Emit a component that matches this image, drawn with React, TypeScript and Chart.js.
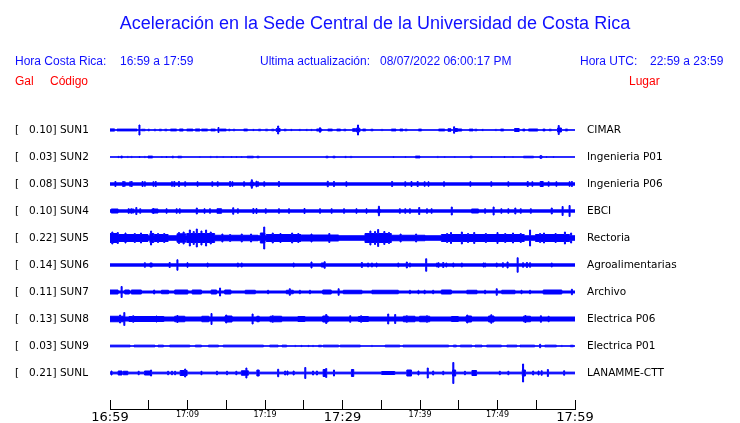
import React, { useEffect, useRef } from "react";
import { Chart, registerables } from "chart.js";

Chart.register(...registerables);

// ---------- DATA ----------
const titleText = "Aceleración en la Sede Central de la Universidad de Costa Rica";
const localTimeLabel = "Hora Costa Rica:";
const localTimeRange = "16:59 a 17:59";
const updateLabel = "Ultima actualización:";
const updateValue = "08/07/2022 06:00:17 PM";
const utcLabel = "Hora UTC:";
const utcRange = "22:59 a 23:59";
const unitHeader = "Gal";
const codeHeader = "Código";
const placeHeader = "Lugar";

const timeTickLabels = ["16:59", "17:09", "17:19", "17:29", "17:39", "17:49", "17:59"];

const stationCodes = ["SUN1", "SUN2", "SUN3", "SUN4", "SUN5", "SUN6", "SUN7", "SUN8", "SUN9", "SUNL"];
const peakGal = [0.10, 0.03, 0.08, 0.10, 0.22, 0.14, 0.11, 0.13, 0.03, 0.21];
const places = ["CIMAR", "Ingenieria P01", "Ingenieria P06", "EBCI", "Rectoria", "Agroalimentarias", "Archivo", "Electrica P06", "Electrica P01", "LANAMME-CTT"];
// background noise half-amplitude (gal)
const noiseGal = [0.004, 0.003, 0.023, 0.023, 0.045, 0.023, 0.02, 0.04, 0.003, 0.017];

// bursts: [minute after 16:59, half-amplitude gal, duration minutes (optional)]
const sun1Bursts = [
  [0.3, 0.022, 0.6], [2.2, 0.018, 2.6], [3.8, 0.10], [4.3, 0.015, 0.5], [5.0, 0.015, 0.2], [5.8, 0.015, 0.2], [6.5, 0.015, 0.3], [7.2, 0.015, 0.3], [8.2, 0.018, 0.8], [9.2, 0.02, 0.5], [10.3, 0.018, 0.8], [11.3, 0.02, 0.6], [12.2, 0.018, 0.8], [13.3, 0.018, 0.6], [14.0, 0.05], [14.6, 0.018, 0.8], [15.4, 0.015, 0.2], [16.0, 0.015, 0.2], [17.5, 0.018, 0.5], [18.5, 0.012, 0.2], [19.3, 0.015, 0.3], [20.2, 0.015, 0.3], [21.0, 0.015, 0.3], [21.7, 0.08], [21.7, 0.03, 0.5], [22.6, 0.015, 0.3], [23.4, 0.012, 0.2], [24.5, 0.012, 0.2], [25.4, 0.012, 0.2], [26.0, 0.012, 0.2], [27.0, 0.02, 0.7], [27.1, 0.045], [28.4, 0.018, 0.6], [29.5, 0.018, 0.5], [30.3, 0.015, 0.3], [31.5, 0.025, 0.4], [32.0, 0.10], [32.0, 0.035, 0.5], [32.8, 0.018, 0.4], [33.8, 0.015, 0.3], [35.1, 0.012, 0.2], [36.6, 0.018, 0.6], [37.6, 0.018, 0.4], [38.2, 0.015, 0.3], [40.0, 0.018, 0.4], [42.8, 0.018, 0.8], [43.8, 0.025, 0.4], [44.4, 0.065], [44.6, 0.03, 0.5], [45.1, 0.02, 0.6], [46.6, 0.018, 0.5], [47.2, 0.015, 0.3], [48.1, 0.012, 0.2], [49.8, 0.012, 0.2], [50.6, 0.018, 0.4], [52.5, 0.03, 0.6], [53.4, 0.018, 0.3], [54.6, 0.02, 1.2], [56.0, 0.018, 0.3], [56.8, 0.015, 0.3], [57.9, 0.09], [58.0, 0.04, 0.5], [58.9, 0.018, 0.3],
];
const sun2Bursts = [
  [1.1, 0.012], [1.5, 0.018, 0.2], [2.3, 0.012], [2.8, 0.012], [3.8, 0.01], [4.5, 0.012], [5.2, 0.018, 0.6], [6.7, 0.01], [7.3, 0.01], [8.1, 0.015, 0.2], [9.0, 0.015, 0.5], [11.6, 0.01], [13.0, 0.012], [13.8, 0.012], [14.6, 0.01], [15.7, 0.01], [16.3, 0.01], [17.0, 0.01], [18.1, 0.015, 0.8], [19.1, 0.015, 0.3], [28.0, 0.015, 0.3], [28.9, 0.015, 0.3], [30.4, 0.012, 0.2], [31.1, 0.012, 0.2], [36.6, 0.01], [38.1, 0.01], [39.7, 0.018, 0.6], [42.3, 0.012], [43.2, 0.01], [44.5, 0.01], [46.6, 0.015, 0.3], [49.2, 0.01], [50.9, 0.01], [52.0, 0.01], [54.0, 0.015, 1.3], [55.6, 0.03], [55.6, 0.015, 0.4], [56.3, 0.01], [57.2, 0.01],
];
const sun3Bursts = [
  [0.7, 0.05], [1.7, 0.05], [1.9, 0.045], [2.6, 0.045], [2.8, 0.05], [4.2, 0.05], [4.5, 0.045], [5.6, 0.045], [5.9, 0.05], [8.0, 0.045], [8.3, 0.05], [8.9, 0.05], [9.7, 0.045], [11.3, 0.045], [13.2, 0.045], [13.9, 0.045], [15.5, 0.05], [15.8, 0.045], [17.3, 0.045], [18.3, 0.085], [18.3, 0.04, 0.4], [18.9, 0.055], [19.1, 0.045], [19.9, 0.045], [21.8, 0.05], [28.1, 0.055], [28.9, 0.05], [30.5, 0.045], [36.4, 0.05], [38.1, 0.045], [38.9, 0.05], [39.7, 0.05], [40.6, 0.045], [41.1, 0.045], [43.1, 0.045], [46.5, 0.045], [49.2, 0.045], [51.4, 0.045], [53.9, 0.05], [54.5, 0.045], [55.7, 0.05, 0.4], [56.6, 0.045], [57.6, 0.045], [59.3, 0.045], [59.6, 0.05],
];
const sun4Bursts = [
  [0.6, 0.04, 0.9], [2.4, 0.045], [2.6, 0.04], [2.8, 0.045], [3.0, 0.04], [3.4, 0.07], [3.9, 0.045], [5.8, 0.04, 0.8], [5.6, 0.05], [7.3, 0.045], [8.6, 0.045], [9.0, 0.045], [11.2, 0.06], [12.2, 0.045], [12.9, 0.045], [14.1, 0.045, 0.6], [15.9, 0.065], [16.5, 0.045], [18.5, 0.05], [18.9, 0.05], [20.1, 0.045], [21.8, 0.045], [23.1, 0.045], [25.1, 0.05], [27.1, 0.045], [28.6, 0.045], [30.2, 0.045], [31.8, 0.045], [33.1, 0.045], [34.7, 0.095], [34.7, 0.04, 0.3], [37.4, 0.045], [38.1, 0.045], [38.7, 0.045], [39.9, 0.07], [40.9, 0.045], [41.5, 0.045], [44.1, 0.08], [47.1, 0.04, 0.9], [48.4, 0.045], [49.5, 0.08], [50.5, 0.045], [51.4, 0.045], [52.3, 0.06], [53.0, 0.045], [54.3, 0.045], [57.0, 0.06], [58.4, 0.09], [59.3, 0.11],
];
const sun5Bursts = [
  [0.55, 0.09, 1.1], [3.0, 0.07, 3.8], [0.3, 0.12], [1.0, 0.11], [2.0, 0.1], [3.2, 0.09], [4.0, 0.1], [5.3, 0.14], [5.4, 0.09, 0.5], [6.6, 0.07, 1.8], [6.2, 0.09], [7.0, 0.09], [9.2, 0.085, 1.1], [8.9, 0.11], [9.5, 0.12], [11.7, 0.09, 3.6], [10.3, 0.16], [10.8, 0.13], [11.2, 0.18], [11.8, 0.14], [12.4, 0.16], [13.0, 0.12], [16.3, 0.055, 5.6], [14.5, 0.08], [15.5, 0.07], [17.0, 0.08], [18.2, 0.08], [19.9, 0.22], [19.7, 0.1, 0.6], [22.4, 0.07, 4.5], [21.0, 0.1], [22.0, 0.09], [23.5, 0.1], [24.3, 0.09], [27.1, 0.06, 4.8], [26.0, 0.08], [28.3, 0.09], [34.6, 0.09, 3.4], [33.6, 0.14], [34.2, 0.13], [34.6, 0.17], [35.4, 0.13], [36.0, 0.11], [38.5, 0.055, 4.3], [37.5, 0.08], [39.5, 0.08], [48.1, 0.07, 10.7], [43.5, 0.09], [44.0, 0.11], [45.4, 0.12], [46.2, 0.09], [47.0, 0.11], [48.5, 0.09], [50.0, 0.11], [51.0, 0.09], [52.0, 0.1], [53.0, 0.09], [54.2, 0.16], [57.1, 0.07, 4.4], [55.5, 0.09], [56.0, 0.1], [57.5, 0.09], [58.7, 0.12], [59.5, 0.1],
];
const sun6Bursts = [
  [4.5, 0.045], [5.3, 0.04, 0.3], [7.7, 0.05], [8.7, 0.105], [10.0, 0.045], [12.6, 0.04], [16.5, 0.04], [17.0, 0.04], [23.7, 0.04], [26.0, 0.06], [27.7, 0.065], [27.5, 0.04, 0.5], [32.5, 0.05], [33.3, 0.04], [33.8, 0.04], [34.4, 0.04], [37.2, 0.04], [38.3, 0.06], [38.7, 0.04], [40.8, 0.125], [42.2, 0.04], [42.4, 0.045], [43.0, 0.05], [43.4, 0.04], [44.3, 0.04], [45.4, 0.04], [48.2, 0.04], [48.4, 0.04], [49.9, 0.04], [50.7, 0.045], [51.3, 0.06], [52.6, 0.145], [53.3, 0.045], [53.8, 0.05], [54.2, 0.045], [57.0, 0.04],
];
const sun7Bursts = [
  [0.5, 0.04, 1.1], [1.5, 0.11], [2.2, 0.04, 0.6], [3.4, 0.04, 1.3], [5.7, 0.04], [7.1, 0.035, 0.9], [9.2, 0.04, 1.7], [11.2, 0.04, 1.2], [13.4, 0.04, 0.7], [14.2, 0.08], [15.2, 0.04, 0.8], [18.1, 0.035, 1.3], [20.4, 0.035], [23.2, 0.035, 0.9], [23.2, 0.065], [24.5, 0.035], [25.8, 0.035], [28.0, 0.04, 1.1], [29.5, 0.065], [31.3, 0.035, 2.4], [35.5, 0.035, 3.4], [38.7, 0.035], [39.8, 0.035], [40.6, 0.035], [41.7, 0.035], [43.4, 0.04, 1.3], [46.7, 0.035, 1.3], [48.4, 0.035], [49.9, 0.065], [51.4, 0.035, 1.7], [53.1, 0.035], [54.2, 0.035], [57.1, 0.04, 2.4], [59.6, 0.055],
];
const sun8Bursts = [
  [0.9, 0.055, 1.9], [1.3, 0.08], [1.85, 0.13], [4.7, 0.05, 4.5], [3.0, 0.065], [6.0, 0.06], [9.0, 0.055, 1.3], [8.7, 0.07], [12.3, 0.055, 0.9], [13.1, 0.11], [15.3, 0.06, 0.9], [15.0, 0.08], [18.4, 0.1], [19.1, 0.055, 0.3], [21.4, 0.055, 1.5], [21.0, 0.065], [24.7, 0.05, 0.9], [27.8, 0.06, 0.7], [27.9, 0.09], [31.0, 0.065], [32.7, 0.05, 1.3], [32.4, 0.065], [35.9, 0.1], [36.8, 0.09], [38.6, 0.055, 1.5], [38.3, 0.065], [40.6, 0.055, 1.3], [40.9, 0.065], [44.5, 0.05, 0.9], [46.3, 0.06, 0.7], [46.1, 0.08], [49.2, 0.06, 0.7], [49.2, 0.085], [53.8, 0.055, 0.9], [53.6, 0.07], [55.6, 0.065], [56.6, 0.055],
];
const sun9Bursts = [
  [1.3, 0.017, 2.6], [4.45, 0.017, 2.7], [6.55, 0.017, 0.7], [9.0, 0.017, 2.6], [11.4, 0.017, 0.8], [13.35, 0.017, 1.3], [17.2, 0.017, 5.2], [21.15, 0.017, 1.1], [22.5, 0.017, 0.6], [23.9, 0.012], [24.7, 0.012], [25.6, 0.012], [26.2, 0.012], [27.1, 0.015, 0.4], [28.5, 0.017, 2.0], [31.0, 0.017, 2.6], [33.8, 0.012], [36.45, 0.017, 1.9], [40.75, 0.017, 5.9], [44.5, 0.017, 0.4], [45.95, 0.017, 1.5], [47.55, 0.017, 0.9], [49.55, 0.017, 1.9], [51.85, 0.017, 1.3], [53.85, 0.017, 1.9], [55.5, 0.035], [56.85, 0.017, 1.5], [58.3, 0.012], [59.6, 0.015, 0.4],
];
const sunLBursts = [
  [0.2, 0.04], [1.3, 0.04, 0.5], [2.0, 0.035, 0.6], [3.7, 0.035], [4.9, 0.04, 0.9], [5.3, 0.06], [7.5, 0.035], [8.0, 0.035], [8.4, 0.035], [9.5, 0.05, 0.9], [9.7, 0.08], [11.8, 0.035], [13.8, 0.035], [15.1, 0.035], [16.3, 0.035], [17.4, 0.045, 0.9], [17.6, 0.1], [19.1, 0.06, 0.3], [21.7, 0.075], [22.6, 0.04], [22.9, 0.04], [23.7, 0.04], [25.2, 0.11], [26.2, 0.04], [26.7, 0.04], [27.7, 0.07, 0.4], [27.9, 0.09], [28.9, 0.06], [31.3, 0.07, 0.3], [35.9, 0.03, 1.7], [38.6, 0.06, 0.6], [39.8, 0.04], [41.0, 0.1], [41.7, 0.04], [43.0, 0.035], [44.3, 0.21], [44.4, 0.06, 0.4], [45.8, 0.035], [47.0, 0.05, 0.6], [50.3, 0.035], [51.4, 0.035], [53.3, 0.18], [53.4, 0.06, 0.4], [54.6, 0.04], [55.3, 0.04], [55.7, 0.045], [56.5, 0.07], [58.6, 0.045],
];
const burstsByStation = [sun1Bursts, sun2Bursts, sun3Bursts, sun4Bursts, sun5Bursts, sun6Bursts, sun7Bursts, sun8Bursts, sun9Bursts, sunLBursts];

// ---------- LAYOUT / STYLE CONSTANTS ----------
const ROW_GAP = 0.54; // gal between trace baselines
const TRACE_COLOR = "#0000ff";
const HEAD_BLUE = "#1010ff";
const HEAD_RED = "#ff0000";
const SANS = '"Liberation Sans", Arial, Helvetica, sans-serif';
const DEJAVU = '"DejaVu Sans", sans-serif';
const DEFAULT_DUR = 0.13;
const LABEL_SIZE = 10.5;

function envelope(noise: number, bursts: number[][]) {
  const bounds = new Set<number>([0, 60]);
  const evs = bursts.map(([t, a, d]) => {
    const dd = d ?? DEFAULT_DUR;
    const s = Math.max(0, t - dd / 2);
    const e = Math.min(60, t + dd / 2);
    bounds.add(+s.toFixed(4));
    bounds.add(+e.toFixed(4));
    return { s, e, a };
  });
  const xs = Array.from(bounds).sort((a, b) => a - b);
  const pts: { x: number; v: number }[] = [];
  for (let k = 0; k < xs.length - 1; k++) {
    const mid = (xs[k] + xs[k + 1]) / 2;
    let v = noise;
    for (const ev of evs) if (mid >= ev.s && mid < ev.e) v = Math.max(v, ev.a);
    pts.push({ x: xs[k], v });
  }
  pts.push({ x: 60, v: pts[pts.length - 1].v });
  return pts;
}

const headerPlugin = {
  id: "headerTexts",
  afterDraw(chart: any) {
    const ctx = chart.ctx;
    ctx.save();
    ctx.textBaseline = "middle";
    ctx.fillStyle = HEAD_BLUE;
    ctx.textAlign = "center";
    ctx.font = `18px ${SANS}`;
    ctx.fillText(titleText, 375, 24);
    ctx.textAlign = "left";
    ctx.font = `12px ${SANS}`;
    ctx.fillText(localTimeLabel, 15, 62);
    ctx.fillText(localTimeRange, 120, 62);
    ctx.fillText(updateLabel, 260, 62);
    ctx.fillText(updateValue, 380, 62);
    ctx.fillText(utcLabel, 580, 62);
    ctx.fillText(utcRange, 650, 62);
    ctx.fillStyle = HEAD_RED;
    ctx.fillText(unitHeader, 15, 82);
    ctx.fillText(codeHeader, 50, 82);
    ctx.fillText(placeHeader, 629, 82);
    ctx.restore();
  },
};

const rowIndex = (v: number) => Math.round(-v / ROW_GAP);
const leftLabel = (i: number) => `[   ${peakGal[i].toFixed(2)}] ${stationCodes[i]}`;

export default function App() {
  const ref = useRef<HTMLCanvasElement>(null);
  useEffect(() => {
    if (!ref.current) return;
    const datasets: any[] = [];
    stationCodes.forEach((code, i) => {
      const base = -i * ROW_GAP;
      const env = envelope(noiseGal[i], burstsByStation[i]);
      const common = {
        stepped: true,
        borderColor: TRACE_COLOR,
        backgroundColor: TRACE_COLOR,
        borderWidth: 1,
        pointRadius: 0,
        tension: 0,
      };
      datasets.push({ ...common, label: code + "+", data: env.map((p) => ({ x: p.x, y: base + p.v })), fill: "+1" });
      datasets.push({ ...common, label: code + "-", data: env.map((p) => ({ x: p.x, y: base - p.v })), fill: false });
    });

    const yMax = 0.6;
    const yMin = -5.58;
    const rowTicks = (s: any) => {
      s.ticks = stationCodes.map((_, i) => ({ value: -i * ROW_GAP }));
    };

    const chart = new Chart(ref.current, {
      type: "line",
      data: { datasets },
      options: {
        animation: false,
        responsive: false,
        events: [],
        layout: { padding: { top: 100, left: 15, right: 0, bottom: 0 } },
        plugins: { legend: { display: false }, tooltip: { enabled: false }, title: { display: false } },
        scales: {
          x: {
            type: "linear",
            position: "bottom",
            min: 0,
            max: 60,
            grid: { drawOnChartArea: false, drawTicks: true, tickLength: -9, color: "#000", lineWidth: 1 },
            border: { display: true, color: "#000", width: 1 },
            ticks: {
              stepSize: 5,
              autoSkip: false,
              maxRotation: 0,
              padding: 10,
              color: "#000",
              font: (c: any) => ({ family: DEJAVU, size: c.tick && c.tick.value % 30 === 0 ? 13 : 8 }),
              callback: (v: any) => (Number(v) % 10 === 0 ? timeTickLabels[Number(v) / 10] : ""),
            },
            afterFit: (s: any) => {
              s.height = 14;
            },
          },
          y: {
            type: "linear",
            position: "left",
            min: yMin,
            max: yMax,
            grid: { display: false, drawTicks: false },
            border: { display: false },
            afterBuildTicks: rowTicks,
            ticks: {
              crossAlign: "far",
              padding: 0,
              color: "#000",
              font: { family: DEJAVU, size: LABEL_SIZE },
              callback: (v: any) => leftLabel(rowIndex(Number(v))),
            },
            afterFit: (s: any) => {
              s.width = 95;
            },
          },
          y2: {
            type: "linear",
            position: "right",
            min: yMin,
            max: yMax,
            grid: { display: true, drawOnChartArea: false, drawTicks: true, tickLength: 12, color: "rgba(0,0,0,0)" },
            border: { display: false },
            afterBuildTicks: rowTicks,
            ticks: {
              crossAlign: "near",
              padding: 0,
              color: "#000",
              font: { family: DEJAVU, size: LABEL_SIZE },
              callback: (v: any) => places[rowIndex(Number(v))],
            },
            afterFit: (s: any) => {
              s.width = 165;
            },
          },
        },
      } as any,
      plugins: [headerPlugin],
    });
    return () => chart.destroy();
  }, []);

  return (
    <div style={{ position: "fixed", left: 0, top: 0, width: 740, height: 423, background: "#fff" }}>
      <canvas ref={ref} width={740} height={423} style={{ display: "block", width: 740, height: 423 }} />
    </div>
  );
}
